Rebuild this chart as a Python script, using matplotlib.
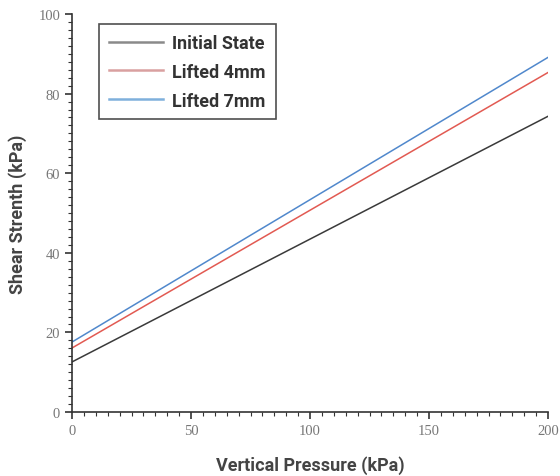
import matplotlib
matplotlib.use("Agg")
import matplotlib.pyplot as plt
from matplotlib.ticker import MultipleLocator

pressure = [0, 200]
initial_state = [12.6, 74.3]
lifted_4mm = [16.1, 85.3]
lifted_7mm = [17.6, 89.1]
labels = ["Initial State", "Lifted 4mm", "Lifted 7mm"]
colors = ["#3a3a3a", "#e25a52", "#5088cc"]

fig = plt.figure(figsize=(5.6, 4.77), dpi=100)
ax = fig.add_axes([0.1286, 0.134, 0.85, 0.8346])

for y, lab, c in zip([initial_state, lifted_4mm, lifted_7mm], labels, colors):
    ax.plot(pressure, y, color=c, lw=1.1, label=lab)

ax.set_xlim(0, 200)
ax.set_ylim(0, 100)
ax.xaxis.set_major_locator(MultipleLocator(50))
ax.xaxis.set_minor_locator(MultipleLocator(5))
ax.yaxis.set_major_locator(MultipleLocator(20))
ax.yaxis.set_minor_locator(MultipleLocator(2))
for s in ["top", "right"]:
    ax.spines[s].set_visible(False)
for s in ["left", "bottom"]:
    ax.spines[s].set_color("#333333")
    ax.spines[s].set_linewidth(1.2)
ax.tick_params(which="major", direction="out", length=5, width=1.2, color="#333333",
               labelsize=10.5, labelcolor="#777777")
ax.tick_params(which="minor", direction="out", length=3, width=0.8, color="#333333")
for t in ax.get_xticklabels() + ax.get_yticklabels():
    t.set_fontfamily(["Liberation Serif", "DejaVu Serif"])

lab_font = dict(family=["Liberation Sans Narrow", "Roboto", "DejaVu Sans"], weight="bold",
                size=13, color="#444444")
ax.set_xlabel("Vertical Pressure (kPa)", labelpad=13, **lab_font)
ax.set_ylabel("Shear Strenth (kPa)", labelpad=8, **lab_font)

leg = ax.legend(loc="upper left", bbox_to_anchor=(0.057, 0.975), frameon=True, fancybox=False,
                edgecolor="#222222", handlelength=3.0, handletextpad=0.5, borderpad=0.55,
                labelspacing=0.6, borderaxespad=0.0,
                prop=dict(family=["Liberation Sans Narrow", "Roboto", "DejaVu Sans"],
                          weight="bold", size=13))
leg.get_frame().set_linewidth(1.2)
for t in leg.get_texts():
    t.set_color("#333333")
leg_colors = ["#8a8a8a", "#d9a0a0", "#7fb0dc"]
for h, c in zip(leg.get_lines(), leg_colors):
    h.set_color(c)
    h.set_linewidth(1.8)

fig.savefig("out.png", dpi=100)
